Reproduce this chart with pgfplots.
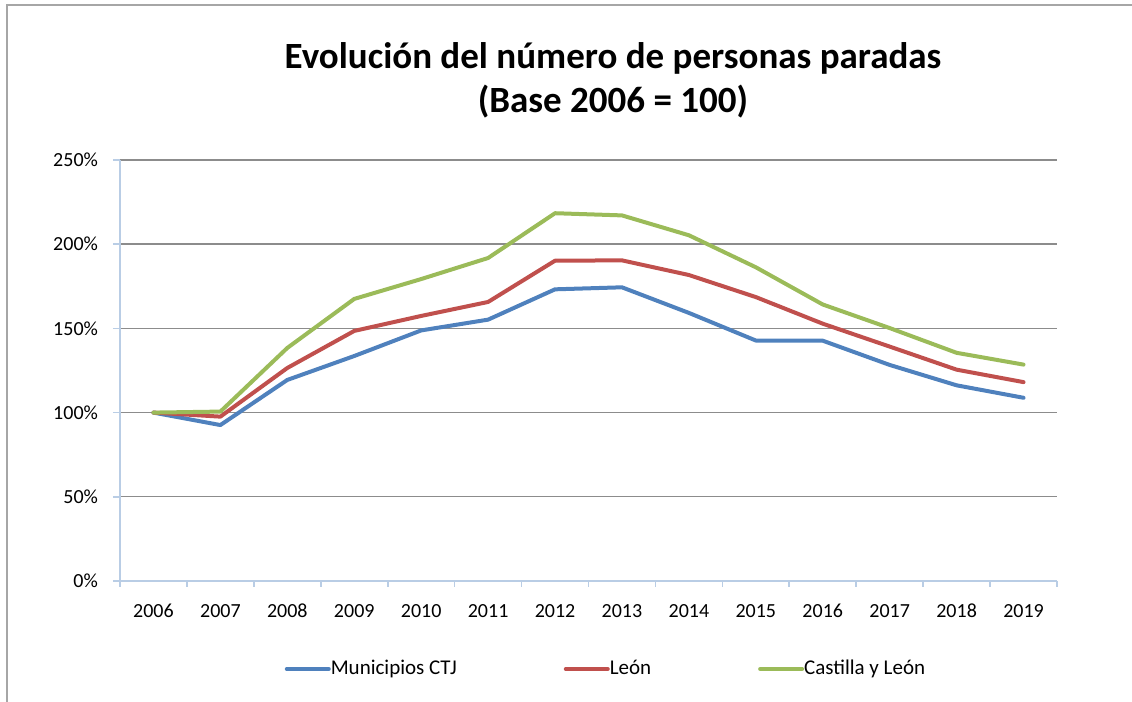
\documentclass[border=0pt]{standalone}
\usepackage{pgfplots}
\pgfplotsset{compat=1.18}
\usepackage{fontspec}
\setmainfont{Carlito}
\definecolor{sblue}{HTML}{4F81BD}
\definecolor{sred}{HTML}{C0504D}
\definecolor{sgreen}{HTML}{9BBB59}
\definecolor{axblue}{HTML}{B9CDE5}
\definecolor{gridgray}{HTML}{8C8C8C}
\definecolor{framegray}{HTML}{A6A6A6}
\begin{document}
\begin{tikzpicture}
\path[use as bounding box] (0,0) rectangle (566pt,351pt);
\draw[framegray, line width=1pt] (3.5pt,0) -- (3.5pt,348.5pt) -- (566pt,348.5pt);
\node[align=center, font=\bfseries\fontsize{18.5}{22}\selectfont] at (306.5pt,311pt) {Evolución del número de personas paradas\\(Base 2006 = 100)};
\begin{axis}[
  at={(60pt,60.5pt)}, anchor=south west,
  scale only axis, width=468.5pt, height=210.5pt,
  xmin=-0.5, xmax=13.5, ymin=0, ymax=250,
  axis x line*=bottom, axis y line*=left,
  x axis line style={draw=axblue, line width=0.8pt, -},
  y axis line style={draw=axblue, line width=0.8pt, -},
  xtick={0,...,13},
  xticklabels={2006,2007,2008,2009,2010,2011,2012,2013,2014,2015,2016,2017,2018,2019},
  major x tick style={draw=none},
  minor xtick={-0.5,0.5,...,13.5},
  minor x tick style={draw=axblue, line width=0.8pt},
  minor tick length=3pt,
  ytick={0,50,...,250},
  yticklabel={\pgfmathprintnumber{\tick}\%},
  major y tick style={draw=axblue, line width=0.8pt},
  major tick length=3.5pt,
  tick align=outside,
  ymajorgrids,
  grid style={draw=gridgray, line width=0.7pt},
  tick label style={font=\fontsize{10}{12}\selectfont},
  /pgf/number format/assume math mode=true,
  xticklabel style={yshift=-4pt, text height=7pt, text depth=0pt},
  yticklabel style={xshift=-4pt},
  legend style={at={(0.5176,-0.209)}, anchor=center, draw=none, fill=none,
    font=\fontsize{10.5}{12}\selectfont, legend columns=3,
    nodes={inner xsep=0pt},
    /tikz/every even column/.append style={column sep=53.5pt},
    inner sep=0pt},
  legend image code/.code={\draw[#1, line width=2pt, line cap=round] (0pt,0pt) -- (21pt,0pt);},
  legend cell align=left,
  every axis plot/.append style={line width=2pt, line join=round, line cap=round},
]
\addplot[sblue] coordinates {(0,100) (1,92.6) (2,119.4) (3,133.6) (4,148.8) (5,155.2) (6,173.2) (7,174.4) (8,159.2) (9,142.8) (10,142.7) (11,128.3) (12,116.2) (13,108.8)};
\addlegendentry{Municipios CTJ}
\addplot[sred] coordinates {(0,100) (1,97.6) (2,126.5) (3,148.5) (4,157.4) (5,165.7) (6,190.2) (7,190.4) (8,181.7) (9,168.6) (10,152.8) (11,139.2) (12,125.5) (13,118.1)};
\addlegendentry{León}
\addplot[sgreen] coordinates {(0,100) (1,100.6) (2,138.4) (3,167.5) (4,179.3) (5,191.8) (6,218.4) (7,217.1) (8,205.3) (9,186.3) (10,164.2) (11,150.2) (12,135.5) (13,128.5)};
\addlegendentry{Castilla y León}
\end{axis}
\end{tikzpicture}
\end{document}
